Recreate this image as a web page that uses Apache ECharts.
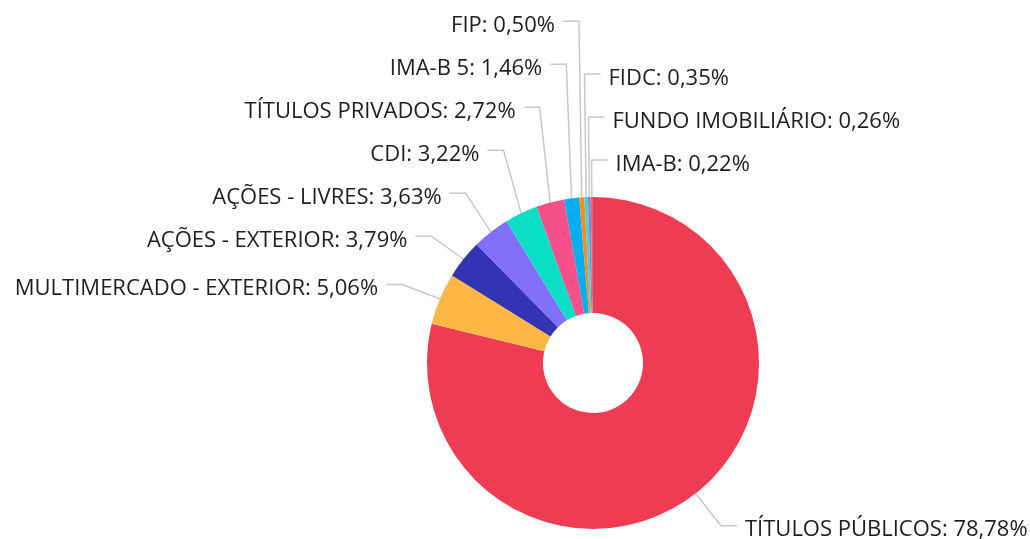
<!DOCTYPE html>
<html><head><meta charset="utf-8">
<script src="https://cdn.jsdelivr.net/npm/echarts@6/dist/echarts.min.js"></script>
<style>html,body{margin:0;padding:0;background:#fff}#c{width:1030px;height:539px}</style>
</head><body><div id="c"></div>
<script>
const categories = ['TÍTULOS PÚBLICOS','MULTIMERCADO - EXTERIOR','AÇÕES - EXTERIOR','AÇÕES - LIVRES','CDI','TÍTULOS PRIVADOS','IMA-B 5','FIP','FIDC','FUNDO IMOBILIÁRIO','IMA-B'];
const values = [78.78, 5.06, 3.79, 3.63, 3.22, 2.72, 1.46, 0.50, 0.35, 0.26, 0.22];
const colors = ['#EE3C52','#FFB845','#3333B3','#8070F8','#0ADFC4','#F5508A','#05AEEF','#FF8A1E','#34D9E0','#8D7FD0','#F06080'];
const rightSideLabels = ['FIDC','FUNDO IMOBILIÁRIO','IMA-B'];

const CX = 593, CY = 363, R0 = 50, R = 166;
const LEN1 = 41, LEN2 = 16, STACK_GAP = 43, TEXT_GAP = 8, TEXT_DY = 4.5;

function computeLabelLayout() {
  const total = values.reduce((a, b) => a + b, 0);
  let acc = 0;
  const items = values.map((v, i) => {
    const a0 = acc / total * 2 * Math.PI; acc += v;
    const a1 = acc / total * 2 * Math.PI;
    const m = (a0 + a1) / 2;
    const signed = m > Math.PI ? m - 2 * Math.PI : m;
    const dx = Math.sin(m), dy = -Math.cos(m);
    const ex = CX + R * dx, ey = CY + R * dy;
    const left = dx < 0 && rightSideLabels.indexOf(categories[i]) < 0;
    return { i, signed, dx, dy, ex, ey, nx: ex + dx * LEN1, ny: ey + dy * (dy < 0 ? LEN1 - 4 : LEN1), left };
  });
  // bottom-to-top order: left side by increasing angle, right side by decreasing angle
  const leftG = items.filter(it => it.left).sort((a, b) => a.signed - b.signed);
  const rightG = items.filter(it => !it.left).sort((a, b) => b.signed - a.signed);
  [leftG, rightG].forEach(g => {
    let prev = Infinity;
    g.forEach(it => { it.y = Math.min(it.ny, prev - STACK_GAP); prev = it.y; });
  });
  return items;
}
const lab = computeLabelLayout();

const chart = echarts.init(document.getElementById('c'), null, { renderer: 'canvas' });
chart.setOption({
  animation: false,
  series: [{
    type: 'pie',
    center: [CX, CY],
    radius: [R0, R],
    startAngle: 90,
    clockwise: true,
    avoidLabelOverlap: false,
    minShowLabelAngle: 0,
    emphasis: { disabled: true },
    data: categories.map((n, i) => ({ name: n, value: values[i], itemStyle: { color: colors[i] } })),
    itemStyle: { borderWidth: 0 },
    label: {
      show: true,
      position: 'outside',
      fontFamily: 'Open Sans',
      fontSize: 22,
      color: '#1e1e1e',
      formatter: p => p.name + ': ' + p.value.toFixed(2).replace('.', ',') + '%'
    },
    labelLine: { show: true, length: LEN1, length2: LEN2, lineStyle: { color: '#c8c8c8', width: 1.5 } },
    labelLayout: function (params) {
      const it = lab[params.dataIndex];
      const p0 = (params.labelLinePoints && params.labelLinePoints[0]) ? params.labelLinePoints[0] : [it.ex, it.ey];
      const p1 = [it.nx, it.y];
      const p2 = [it.left ? it.nx - LEN2 : it.nx + LEN2, it.y];
      return {
        x: it.left ? p2[0] - TEXT_GAP : p2[0] + TEXT_GAP,
        y: it.y + TEXT_DY,
        align: it.left ? 'right' : 'left',
        verticalAlign: 'middle',
        labelLinePoints: [p0, p1, p2]
      };
    }
  }]
});
</script></body></html>
